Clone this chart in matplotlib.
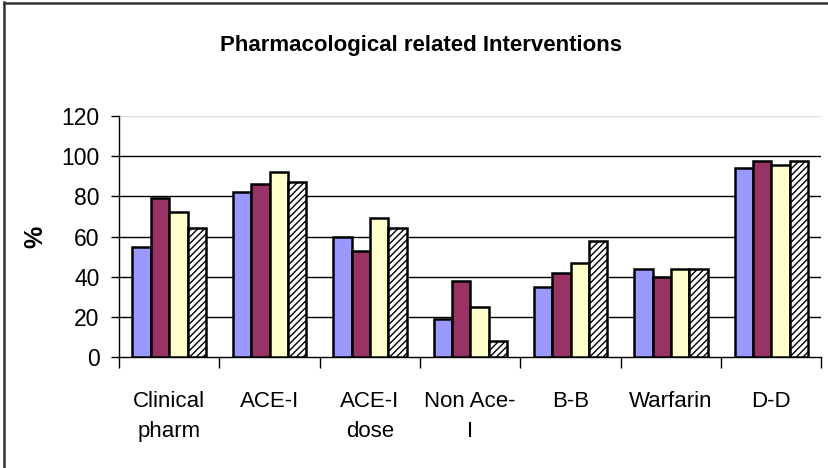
import matplotlib
matplotlib.use("Agg")
import matplotlib.pyplot as plt
import numpy as np
from matplotlib.lines import Line2D

plt.rcParams['font.family'] = ['Liberation Sans', 'DejaVu Sans']
plt.rcParams['hatch.linewidth'] = 1.0

categories = ["Clinical\npharm", "ACE-I", "ACE-I\ndose", "Non Ace-\nI", "B-B", "Warfarin", "D-D"]
series_1 = [55, 82, 60, 19, 35, 44, 94]
series_2 = [79, 86, 53, 38, 42, 40, 97.5]
series_3 = [72, 92, 69, 25, 47, 44, 95.5]
series_4 = [64, 87, 64, 8, 58, 44, 97.5]
y_ticks = [0, 20, 40, 60, 80, 100, 120]

series = [series_1, series_2, series_3, series_4]
colors = ["#9999FF", "#993366", "#FFFFCC", "white"]
hatches = [None, None, None, "/////"]

fig = plt.figure(figsize=(8.29, 4.68), dpi=100)
ax = fig.add_axes([119/829, 1-357.3/468, (821.5-119)/829, (357.3-115.7)/468])

x = np.arange(len(categories))
w = 0.183
for i, (vals, c, h) in enumerate(zip(series, colors, hatches)):
    ax.bar(x + (i - 1.5) * w, vals, width=w, color=c, edgecolor="black",
           linewidth=1.8, hatch=h, zorder=3)

ax.set_xlim(-0.5, len(categories) - 0.5)
ax.set_ylim(0, 120)
ax.set_yticks(y_ticks)
ax.set_yticklabels([str(v) for v in y_ticks], fontsize=16.5)
for v in y_ticks[1:-1]:
    ax.axhline(v, color="black", linewidth=1.0, zorder=1)
ax.axhline(120, color="#dddddd", linewidth=1.0, zorder=1)

ax.set_xticks(np.arange(len(categories) + 1) - 0.5)
ax.set_xticklabels([])
ax.set_xticks(x, minor=True)
ax.set_xticklabels(categories, minor=True, fontsize=16, linespacing=1.6)
ax.tick_params(axis="x", which="major", length=8, width=1, direction="out")
ax.tick_params(axis="x", which="minor", length=0, pad=24)
ax.tick_params(axis="y", length=6, width=1, direction="out", pad=8)

for s in ["top", "right"]:
    ax.spines[s].set_visible(False)
ax.spines["left"].set_linewidth(1.0)
ax.spines["bottom"].set_linewidth(1.0)

ax.set_ylabel("%", fontsize=18, fontweight="bold", labelpad=10)

fig.text(421/829, 1-45/468, "Pharmacological related Interventions",
         fontsize=16, fontweight="bold", ha="center", va="center")

fig.add_artist(Line2D([4/829, 4/829], [0, 1-2/468], color="#333333", linewidth=1.8,
                      transform=fig.transFigure))
fig.add_artist(Line2D([4/829, 1], [1-3/468, 1-3/468], color="#333333", linewidth=1.8,
                      transform=fig.transFigure))

fig.savefig("out.png", dpi=100)
